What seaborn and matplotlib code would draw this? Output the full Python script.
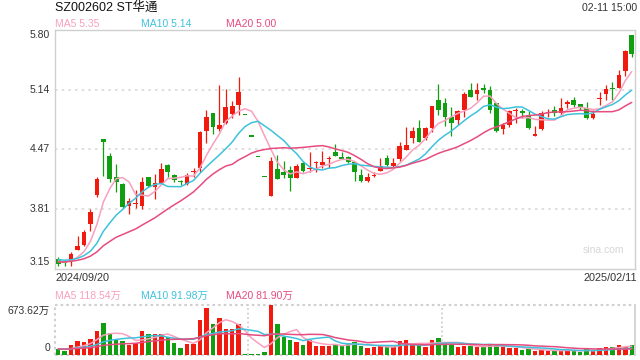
import numpy as np
import pandas as pd
import matplotlib
matplotlib.use('Agg')
import matplotlib.pyplot as plt
import seaborn as sns

# ---- data ----
opens = [3.26, 3.22, 3.24, 3.36, 3.42, 3.65, 3.97, 4.59, 4.40, 4.17,
         4.09, 3.85, 3.87, 3.85, 4.17, 4.06, 4.10, 4.30, 4.19, 4.115,
         4.09, 4.22, 4.27, 4.68, 4.88, 4.70, 4.77, 4.87, 4.97, 4.86,
         4.62, 4.39, 4.17, 3.96, 4.26, 4.23, 4.25, 4.16, 4.33, 4.26,
         4.325, 4.30, 4.37, 4.45, 4.38, 4.39, 4.34, 4.19, 4.13, 4.185,
         4.24, 4.38, 4.29, 4.37, 4.47, 4.60, 4.71, 4.60, 4.71, 5.02,
         4.99, 4.83, 4.80, 4.91, 5.14, 5.09, 5.145, 5.14, 4.99, 4.70,
         4.75, 4.90, 4.90, 4.85, 4.625, 4.70, 4.88, 4.91, 4.88, 4.985,
         5.02, 4.98, 4.94, 4.82, 5.03, 5.09, 5.15, 5.16, 5.35, 5.74]
highs = [3.28, 3.23, 3.34, 3.52, 3.58, 3.82, 4.17, 4.59, 4.44, 4.31,
         4.10, 3.94, 4.03, 4.17, 4.17, 4.20, 4.33, 4.31, 4.20, 4.14,
         4.21, 4.27, 4.68, 4.91, 4.88, 5.19, 5.15, 5.01, 5.28, 4.86,
         4.62, 4.39, 4.17, 4.39, 4.41, 4.35, 4.29, 4.31, 4.35, 4.45,
         4.35, 4.46, 4.40, 4.54, 4.45, 4.40, 4.34, 4.26, 4.21, 4.23,
         4.38, 4.41, 4.38, 4.56, 4.73, 4.73, 4.80, 4.72, 4.96, 5.20,
         5.05, 4.95, 4.91, 5.11, 5.21, 5.21, 5.20, 5.18, 4.99, 4.77,
         4.91, 4.93, 4.92, 4.90, 4.74, 4.90, 4.92, 4.96, 5.05, 5.02,
         5.06, 4.98, 5.00, 4.91, 5.11, 5.19, 5.22, 5.36, 5.58, 5.75]
lows = [3.18, 3.18, 3.18, 3.36, 3.41, 3.57, 3.95, 4.18, 4.11, 4.00,
        3.83, 3.76, 3.83, 3.82, 4.06, 3.93, 4.09, 4.17, 4.12, 4.08,
        4.08, 4.17, 4.23, 4.55, 4.65, 4.68, 4.76, 4.82, 4.86, 4.86,
        4.62, 4.39, 4.17, 3.96, 4.15, 4.16, 4.02, 4.16, 4.22, 4.23,
        4.23, 4.27, 4.27, 4.40, 4.37, 4.32, 4.13, 4.11, 4.12, 4.17,
        4.24, 4.29, 4.28, 4.35, 4.47, 4.55, 4.56, 4.58, 4.67, 4.86,
        4.74, 4.63, 4.75, 4.84, 5.06, 5.02, 5.10, 4.88, 4.67, 4.65,
        4.73, 4.77, 4.82, 4.70, 4.62, 4.69, 4.83, 4.85, 4.86, 4.93,
        4.95, 4.91, 4.81, 4.81, 4.97, 5.02, 5.02, 5.16, 5.29, 5.50]
closes = [3.21, 3.215, 3.32, 3.41, 3.56, 3.78, 4.15, 4.56, 4.15, 4.12,
          3.84, 3.90, 3.875, 4.11, 4.07, 4.10, 4.26, 4.22, 4.14, 4.11,
          4.19, 4.24, 4.67, 4.84, 4.73, 4.75, 4.95, 4.96, 5.11, 4.859,
          4.619, 4.389, 4.169, 4.35, 4.15, 4.19, 4.16, 4.29, 4.24, 4.265,
          4.33, 4.34, 4.375, 4.40, 4.375, 4.34, 4.22, 4.13, 4.17, 4.19,
          4.29, 4.30, 4.33, 4.51, 4.53, 4.68, 4.56, 4.71, 4.96, 4.91,
          4.84, 4.77, 4.90, 5.09, 5.06, 5.14, 5.14, 4.91, 4.68, 4.75,
          4.90, 4.905, 4.88, 4.71, 4.65, 4.88, 4.885, 4.88, 4.94, 4.99,
          4.97, 4.94, 4.82, 4.87, 5.035, 5.15, 5.145, 5.30, 5.57, 5.53]
volumes = [81, 54, 135, 189, 175, 216, 323, 431, 292, 202,
           189, 135, 162, 323, 283, 283, 283, 238, 162, 94,
           148, 148, 472, 638, 418, 498, 350, 350, 418, 13,
           13, 18, 40, 673.62, 418, 247, 202, 175, 135, 202,
           121, 121, 121, 148, 121, 162, 175, 121, 94, 108,
           121, 108, 108, 189, 202, 135, 148, 108, 202, 229,
           162, 148, 108, 121, 121, 108, 108, 135, 135, 108,
           94, 94, 67, 81, 54, 67, 54, 54, 67, 67,
           54, 40, 81, 54, 94, 108, 108, 135, 108, 135]
# sessions before the first visible day (only feed the moving averages)
prior_closes = [3.18, 3.20, 3.19, 3.21, 3.20, 3.22, 3.19, 3.18, 3.20, 3.24,
                3.28, 3.27, 3.25, 3.26, 3.29, 3.27, 3.24, 3.22, 3.25]
prior_volumes = [70, 85, 78, 92, 66, 74, 88, 95, 80, 72,
                 84, 90, 76, 68, 82, 96, 79, 87, 73]
title_text = "SZ002602 ST华通"
time_text = "02-11 15:00"
date_labels = ["2024/09/20", "2025/02/11"]
price_ticks = [3.15, 3.8125, 4.475, 5.1375, 5.80]
vol_max = 673.62
price_legend = ["MA5 5.35", "MA10 5.14", "MA20 5.00"]
vol_legend = ["MA5 118.54万", "MA10 91.98万", "MA20 81.90万"]

# ---- style ----
sns.set_theme(style='white')
plt.rcParams['font.family'] = ['Liberation Sans', 'Noto Sans CJK SC', 'DejaVu Sans']

RED = '#f01a0e'
GREEN = '#119e11'
C_MA5 = '#f8a0bd'
C_MA10 = '#3ec2dc'
C_MA20 = '#e64c7e'
GRID = '#d9d9d9'
TXT = '#333333'

P = len(prior_closes)
full = pd.DataFrame({'c': prior_closes + closes, 'v': prior_volumes + volumes})
full['i'] = np.arange(len(full)) - P
for n in (5, 10, 20):
    full[f'ma{n}'] = full['c'].rolling(n, min_periods=1).mean()
    full[f'vma{n}'] = full['v'].rolling(n, min_periods=1).mean()
ma = full[full['i'] >= 0].reset_index(drop=True)

df = pd.DataFrame({'o': opens, 'h': highs, 'l': lows, 'c': closes, 'v': volumes})
df['i'] = np.arange(len(df))
df['up'] = df['c'] >= df['o']

W, H = 640, 360
fig = plt.figure(figsize=(W / 100, H / 100), dpi=100)
fig.patch.set_facecolor('white')
axp = fig.add_axes([55 / W, 1 - 269 / H, 580 / W, 239 / H])
axv = fig.add_axes([55 / W, 1 - 355 / H, 580 / W, 50 / H])

N = len(df)
# ---- price panel ----
for yv in price_ticks[1:-1]:
    axp.axhline(yv, color=GRID, lw=1.2, ls=(0, (1.5, 2.5)), zorder=0)
cols = [RED if u else GREEN for u in df['up']]
axp.vlines(df['i'], df['l'], df['h'], colors=cols, lw=0.9, zorder=2)
body_h = np.maximum((df['c'] - df['o']).abs(), 0.012)
axp.bar(df['i'], body_h, bottom=np.minimum(df['o'], df['c']), width=0.72,
        color=cols, linewidth=0, zorder=3)
for n, c in ((5, C_MA5), (10, C_MA10), (20, C_MA20)):
    sns.lineplot(x=ma['i'], y=ma[f'ma{n}'], ax=axp, color=c, lw=1.1, zorder=4)
axp.set_xlim(-0.5, N - 0.5)
axp.set_ylim(3.15, 5.80)
axp.set_xticks([]); axp.set_yticks([])
axp.set_xlabel(''); axp.set_ylabel('')
for s in axp.spines.values():
    s.set_color('#cfcfcf'); s.set_linewidth(1)
axp.text(0.945, 0.08, 'sina.com', transform=axp.transAxes, color='#d6d6d6',
         fontsize=7.5, ha='center', va='center')

# ---- volume panel ----
axv.bar(df['i'], df['v'], width=0.7, color=cols, linewidth=0, zorder=3)
for n, c in ((5, C_MA5), (10, C_MA10), (20, C_MA20)):
    sns.lineplot(x=ma['i'], y=ma[f'vma{n}'], ax=axv, color=c, lw=1.1, zorder=4)
axv.set_xlim(-0.5, N - 0.5)
axv.set_ylim(0, vol_max)
axv.set_xticks([]); axv.set_yticks([])
axv.set_xlabel(''); axv.set_ylabel('')
dot = (0, (1.2, 1.5))
axv.axhline(vol_max, color='#cfcfcf', lw=1.5, ls=dot, zorder=1, clip_on=False)
axv.axhline(0, color='#cfcfcf', lw=1.5, ls=dot, zorder=1, clip_on=False)
axv.axvline(-0.5, color='#cfcfcf', lw=1.5, ls=dot, zorder=1, clip_on=False)
for xv in (-0.5 + N / 3, -0.5 + 2 * N / 3):
    axv.axvline(xv, color='#cfcfcf', lw=1.2, ls=dot, zorder=1)
for k, s in axv.spines.items():
    s.set_visible(k == 'right')
    s.set_color('#cfcfcf')

# ---- texts ----
def ft(x, y, s, **kw):
    fig.text(x / W, 1 - y / H, s, **kw)

ft(55, 8, title_text, fontsize=9, color='#111111', va='center', ha='left')
ft(637, 8, time_text, fontsize=7.6, color=TXT, va='center', ha='right')
for xx, s, c in zip((55, 141, 226), price_legend, (C_MA5, C_MA10, C_MA20)):
    ft(xx, 24, s, fontsize=7.5, color=c, va='center')

tick_y = [262, 209, 149, 90, 35]
for v, yy in zip(price_ticks, tick_y):
    ft(50, yy, f"{v:.2f}", fontsize=7.5, color=TXT, va='center', ha='right')

ft(55, 278, date_labels[0], fontsize=7.8, color=TXT, va='center', ha='left')
ft(637, 278, date_labels[1], fontsize=7.8, color=TXT, va='center', ha='right')

for xx, s, c in zip((55, 141, 226), vol_legend, (C_MA5, C_MA10, C_MA20)):
    ft(xx, 296, s, fontsize=7.5, color=c, va='center')
ft(50, 311, f"{vol_max:.2f}万", fontsize=7.5, color=TXT, va='center', ha='right')
ft(50, 348, "0", fontsize=7.5, color=TXT, va='center', ha='right')

fig.savefig('out.png', dpi=100, facecolor='white')
